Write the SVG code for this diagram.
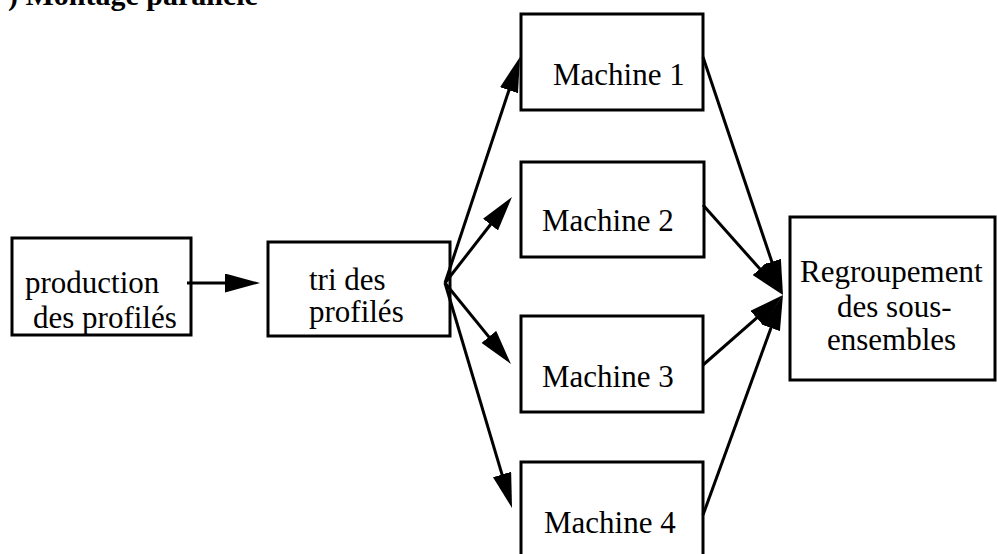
<svg xmlns="http://www.w3.org/2000/svg" width="997" height="554" viewBox="0 0 997 554">
<style>
.box{fill:#fff;stroke:#000;stroke-width:3}
.t{font-family:"Liberation Serif","Times New Roman",serif;font-size:31px;fill:#000}
.title{font-family:"Liberation Serif","Times New Roman",serif;font-size:30px;font-weight:bold;fill:#000}
.c{stroke:#000;stroke-width:3;fill:none;marker-end:url(#ah)}
</style>
<defs>
<marker id="ah" markerUnits="userSpaceOnUse" markerWidth="35" markerHeight="19" viewBox="0 0 35 19" refX="2" refY="9.5" orient="auto">
<path d="M0,0 L35,9.5 L0,19 z" fill="#000"/>
</marker>
</defs>
<rect width="997" height="554" fill="#fff"/>
<text class="title" x="8" y="5">) Montage parallèle</text>
<g id="production">
<rect class="box" x="12" y="238" width="179" height="97"/>
<text class="t" x="25" y="293">production</text>
<text class="t" x="33" y="328">des profilés</text>
</g>
<g id="tri">
<rect class="box" x="268" y="242" width="182" height="94"/>
<text class="t" x="309" y="290">tri des</text>
<text class="t" x="309" y="322">profilés</text>
</g>
<g id="machine1">
<rect class="box" x="521" y="14" width="182" height="96"/>
<text class="t" x="553" y="85">Machine 1</text>
</g>
<g id="machine2">
<rect class="box" x="521" y="162" width="183" height="95"/>
<text class="t" x="542" y="231">Machine 2</text>
</g>
<g id="machine3">
<rect class="box" x="521" y="316" width="182" height="96"/>
<text class="t" x="542" y="387">Machine 3</text>
</g>
<g id="machine4">
<rect class="box" x="521" y="462" width="182" height="100"/>
<text class="t" x="544" y="533">Machine 4</text>
</g>
<g id="regroupement">
<rect class="box" x="790" y="217" width="205" height="163"/>
<text class="t" x="800" y="282">Regroupement</text>
<text class="t" x="837" y="317">des sous-</text>
<text class="t" x="827" y="350">ensembles</text>
</g>
<g id="connectors">
<line class="c" x1="187" y1="283" x2="227" y2="283"/>
<line class="c" x1="445" y1="283" x2="509.6" y2="88.3"/>
<line class="c" x1="445" y1="283" x2="491.7" y2="223"/>
<line class="c" x1="445" y1="283" x2="490.1" y2="338.4"/>
<line class="c" x1="445" y1="283" x2="502.6" y2="476.4"/>
<line class="c" x1="703" y1="57" x2="772.5" y2="263.7"/>
<line class="c" x1="703" y1="205" x2="761.1" y2="270.3"/>
<line class="c" x1="703" y1="365" x2="758.2" y2="316.7"/>
<line class="c" x1="703" y1="515" x2="771.7" y2="326"/>
</g>
</svg>
